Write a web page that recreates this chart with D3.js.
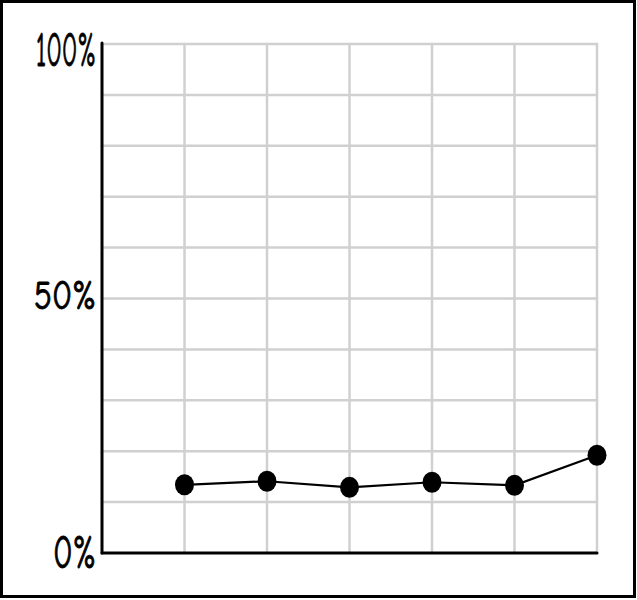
<!DOCTYPE html>
<html>
<head>
<meta charset="utf-8">
<script src="https://cdn.jsdelivr.net/npm/d3@7"></script>
<style>
  body { margin: 0; background: #fff; }
  svg { display: block; }
</style>
</head>
<body>
<script>
// Chart values
const positions = [1, 2, 3, 4, 5, 6]
const shares = [13.4, 14.1, 12.9, 13.9, 13.3, 19.2]
const gridValues = [10, 20, 30, 40, 50, 60, 70, 80, 90, 100]
const tickValues = [0, 50, 100]
const tickLabels = ["0%", "50%", "100%"]

const width = 637
const height = 600

const svg = d3.select("body")
    .append("svg")
    .attr("width", width)
    .attr("height", height)

// Frame
svg.append("rect")
    .attr("x", 1.5).attr("y", 1.5)
    .attr("width", 633).attr("height", 595)
    .style("fill", "white")
    .style("stroke", "black")
    .style("stroke-width", 3)

const xScale = d3.scaleLinear()
    .domain([0, 6])
    .range([102, 597])
const yScale = d3.scaleLinear()
    .domain([0, 100])
    .range([553, 44])

const grid = svg.append("g")
    .style("stroke", "#d0d0d0")
    .style("stroke-width", 2.5)
    .style("stroke-linecap", "round")

// Vertical grid lines
grid.selectAll(".vgrid")
    .data(positions)
    .enter().append("line")
    .attr("class", "vgrid")
    .attr("x1", d => xScale(d)).attr("x2", d => xScale(d))
    .attr("y1", yScale(100)).attr("y2", yScale(0))

// Horizontal grid lines
grid.selectAll(".hgrid")
    .data(gridValues)
    .enter().append("line")
    .attr("class", "hgrid")
    .attr("x1", xScale(0)).attr("x2", xScale(6))
    .attr("y1", d => yScale(d)).attr("y2", d => yScale(d))

// Axes
const axes = svg.append("g")
    .style("stroke", "black")
    .style("stroke-width", 3)
    .style("stroke-linecap", "round")
axes.append("line")
    .attr("x1", xScale(0)).attr("x2", xScale(0))
    .attr("y1", yScale(100) - 1).attr("y2", yScale(0))
axes.append("line")
    .attr("x1", xScale(0)).attr("x2", xScale(6))
    .attr("y1", yScale(0)).attr("y2", yScale(0))

// Tick labels
svg.append("g")
    .selectAll("text")
    .data(tickValues)
    .enter().append("text")
    .attr("x", 96)
    .attr("y", (d, i) => yScale(d) + [-2, -4, 5][i])
    .attr("dy", "0.36em")
    .attr("text-anchor", "end")
    .attr("font-family", "'Humor Sans', 'Comic Neue', Lato, sans-serif")
    .attr("font-size", (d, i) => [46, 40, 48][i])
    .attr("textLength", (d, i) => [43, 62, 60][i])
    .attr("lengthAdjust", "spacingAndGlyphs")
    .style("stroke", "black")
    .style("stroke-width", 0.9)
    .text((d, i) => tickLabels[i])

// Series line and points
const line = d3.line()
    .x((d, i) => xScale(positions[i]))
    .y(d => yScale(d))

svg.append("path")
    .datum(shares)
    .attr("d", line)
    .style("fill", "none")
    .style("stroke", "black")
    .style("stroke-width", 2.2)

svg.selectAll(".dot")
    .data(shares)
    .enter().append("ellipse")
    .attr("class", "dot")
    .attr("cx", (d, i) => xScale(positions[i]))
    .attr("cy", d => yScale(d))
    .attr("rx", 9.5)
    .attr("ry", 10.5)
    .style("fill", "black")
</script>
</body>
</html>
